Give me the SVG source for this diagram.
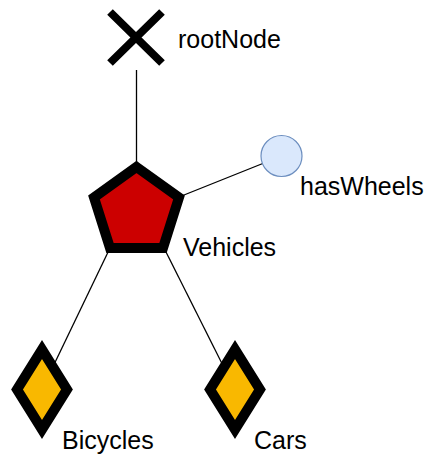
<svg xmlns="http://www.w3.org/2000/svg" width="426" height="455" viewBox="0 0 426 455">
  <style>
    .edge { stroke: #000; stroke-width: 1.3; fill: none; }
    .label { font-family: "Liberation Sans", Arial, Helvetica, sans-serif; font-size: 25px; fill: #000; }
    .diamond { fill: #f9b800; stroke: #000; stroke-width: 10; stroke-linejoin: miter; }
  </style>
  <rect width="426" height="455" fill="#fff"/>
  <g id="connectors">
    <line class="edge" x1="136.5" y1="70" x2="136.5" y2="167"/>
    <line class="edge" x1="179" y1="197" x2="281.5" y2="156"/>
    <line class="edge" x1="110" y1="248" x2="42" y2="389.5"/>
    <line class="edge" x1="164" y1="248" x2="235" y2="389.5"/>
  </g>
  <g id="rootNode">
    <path d="M110,12 L162,63 M162,12 L110,63" stroke="#000" stroke-width="8" fill="none"/>
    <text class="label" x="178" y="48">rootNode</text>
  </g>
  <g id="vehicles">
    <polygon points="136.5,167 179,197.5 163,248 110,248 94,197.5" fill="#cc0000" stroke="#000" stroke-width="10" stroke-linejoin="miter"/>
    <text class="label" x="183" y="256">Vehicles</text>
  </g>
  <g id="hasWheels">
    <circle cx="281.5" cy="156" r="20.5" fill="#dae8fc" stroke="#6c8ebf" stroke-width="1.2"/>
    <text class="label" x="300" y="195">hasWheels</text>
  </g>
  <g id="bicycles">
    <polygon class="diamond" points="42,349.5 67,389.5 42,429.5 17,389.5"/>
    <text class="label" x="62" y="449">Bicycles</text>
  </g>
  <g id="cars">
    <polygon class="diamond" points="235,349.5 260,389.5 235,429.5 210,389.5"/>
    <text class="label" x="254" y="449">Cars</text>
  </g>
</svg>
